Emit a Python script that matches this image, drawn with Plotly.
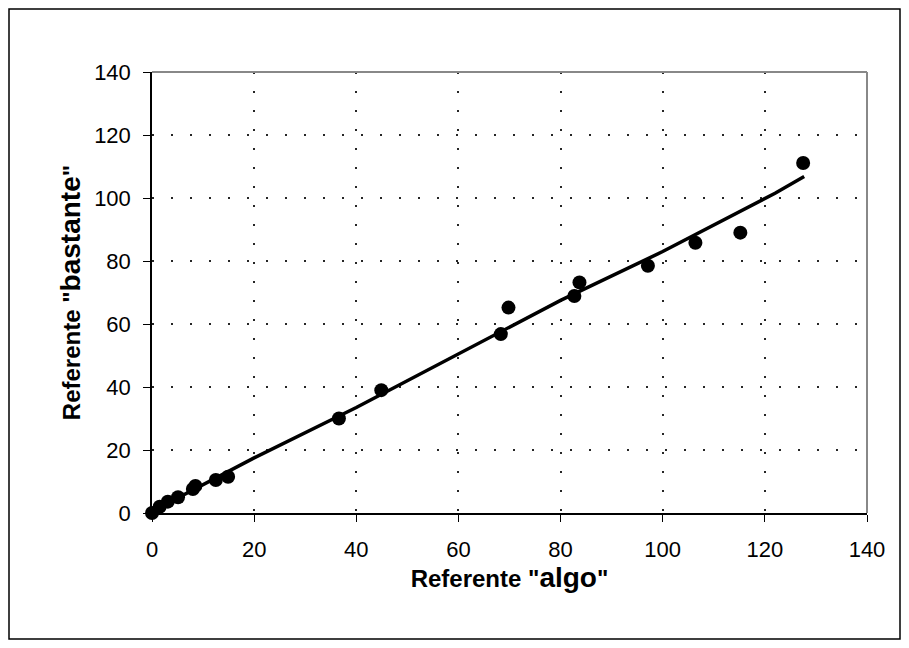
import plotly.graph_objects as go

x_algo = [0, 1.5, 3.1, 5.1, 8.0, 8.5, 12.5, 14.9, 36.6, 44.9, 68.3, 69.8, 82.7, 83.7, 97.1, 106.4, 115.2, 127.5]
y_bastante = [0, 2.0, 3.6, 5.0, 7.6, 8.6, 10.5, 11.5, 30.0, 39.0, 56.8, 65.2, 68.9, 73.2, 78.5, 85.8, 89.0, 111.1]

line_x = [0, 20, 40, 60, 80, 100, 120, 122, 127.7]
line_y = [0.5, 17.5, 33.5, 50.5, 67.5, 83.0, 99.9, 101.5, 106.8]

tick_vals = [0, 20, 40, 60, 80, 100, 120, 140]

# page body has an 8px margin, so figure coords = window coords - 8
OFF = 8
L, R, T, B = 152 - OFF, 867 - OFF, 72 - OFF, 513 - OFF
W, H = 909 - 2 * OFF, 648 - 2 * OFF

fig = go.Figure()
fig.add_trace(go.Scatter(x=line_x, y=line_y, mode="lines", cliponaxis=False,
                         line=dict(color="black", width=3.5), hoverinfo="skip"))
fig.add_trace(go.Scatter(x=x_algo, y=y_bastante, mode="markers", cliponaxis=False,
                         marker=dict(color="black", size=14)))

font = "Liberation Sans, Arial, sans-serif"
axis_common = dict(
    range=[0, 140], tickvals=tick_vals, ticks="outside", ticklen=7,
    tickcolor="black", linecolor="black", linewidth=1.5, showline=True,
    showgrid=True, gridcolor="rgba(0,0,0,0.85)", gridwidth=1.5, griddash="2px,17px",
    zeroline=False, tickfont=dict(family=font, size=22, color="black"),
)

fig.update_layout(
    width=W, height=H, showlegend=False,
    paper_bgcolor="white", plot_bgcolor="white",
    margin=dict(l=L, r=W - R, t=T, b=H - B),
    xaxis=dict(**axis_common, ticklabelstandoff=9,
               title=dict(text='Referente "<span style="font-size:28px">algo</span>"',
                          font=dict(family=font, size=24, color="black", weight="bold"),
                          standoff=8)),
    yaxis=dict(**axis_common, ticklabelstandoff=8,
               title=dict(text='Referente "<span style="font-size:28px">bastante</span>"',
                          font=dict(family=font, size=24, color="black", weight="bold"),
                          standoff=7)),
)

pw, ph = R - L, B - T
def px2paper_x(px):
    return (px - OFF - L) / pw
def px2paper_y(py):
    return (B - (py - OFF)) / ph

# plot area top/right border (gray)
fig.add_shape(type="line", xref="paper", yref="paper", x0=0, x1=1, y0=1, y1=1,
              line=dict(color="#888", width=2))
fig.add_shape(type="line", xref="paper", yref="paper", x0=1, x1=1, y0=0, y1=1,
              line=dict(color="#888", width=2))
# outer frame
fig.add_shape(type="rect", xref="paper", yref="paper",
              x0=px2paper_x(9), x1=px2paper_x(900), y0=px2paper_y(639), y1=px2paper_y(9),
              line=dict(color="black", width=1.5), fillcolor="rgba(0,0,0,0)", layer="below")

fig.write_html("out.html")
